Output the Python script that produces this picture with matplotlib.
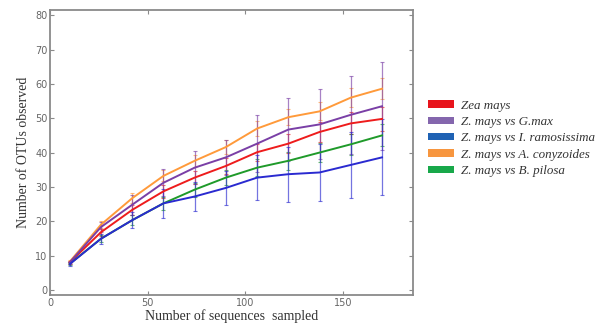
import matplotlib
matplotlib.use("Agg")
import matplotlib.pyplot as plt
from matplotlib.patches import Patch

# Data
seqs = [10, 26, 42, 58, 74, 90, 106, 122, 138, 154, 170]

zea = [8.0, 16.8, 23.3, 28.7, 32.7, 36.1, 40.1, 42.6, 46.0, 48.5, 49.8]
zm_gmax = [8.0, 18.3, 24.8, 31.2, 35.6, 38.6, 42.6, 46.7, 48.2, 51.0, 53.5]
zm_iram = [7.5, 14.9, 20.3, 25.2, 27.2, 29.7, 32.7, 33.7, 34.2, 36.4, 38.6]
zm_acon = [8.2, 19.0, 26.7, 33.2, 37.6, 41.6, 47.0, 50.3, 52.0, 56.0, 58.6]
zm_bpil = [7.6, 14.9, 20.3, 25.2, 29.2, 32.7, 35.6, 37.6, 40.0, 42.4, 45.0]

err_zea = [0.4, 1.0, 1.5, 1.8, 2.0, 2.2, 2.5, 2.8, 3.0, 3.2, 3.4]
err_gmax = [0.5, 1.5, 2.9, 3.9, 4.8, 5.2, 8.4, 9.3, 10.2, 11.4, 12.8]
err_iram = [0.5, 1.5, 2.3, 4.2, 4.2, 4.9, 6.5, 8.0, 8.2, 9.7, 11.1]
err_acon = [0.4, 1.0, 1.4, 1.6, 1.8, 2.0, 2.2, 2.4, 2.6, 2.8, 3.0]
err_bpil = [0.4, 1.0, 1.5, 1.8, 2.0, 2.2, 2.4, 2.6, 2.8, 3.0, 3.2]

labels = ["Zea mays", "Z. mays vs G.max", "Z. mays vs I. ramosissima",
          "Z. mays vs A. conyzoides", "Z. mays vs B. pilosa"]
line_colors = ["#ee1c1c", "#7a3fa6", "#2a2ad0", "#ff9a3a", "#1f9a2a"]
patch_colors = ["#e8141c", "#8466ad", "#1f62b4", "#f7963f", "#18a84a"]

fig = plt.figure(figsize=(6.05, 3.26), dpi=100)
ax = fig.add_axes([0.083, 0.095, 0.6, 0.874])

series = [zea, zm_gmax, zm_iram, zm_acon, zm_bpil]
errs = [err_zea, err_gmax, err_iram, err_acon, err_bpil]

# error bars first (thin, semi-transparent), then lines on top
order = [3, 0, 4, 1, 2]
for i in order:
    ax.errorbar(seqs, series[i], yerr=errs[i], fmt="none", ecolor=line_colors[i],
                elinewidth=0.9, capsize=1.5, capthick=0.8, alpha=0.65, zorder=2)
for i in order:
    ax.plot(seqs, series[i], color=line_colors[i], lw=1.4, zorder=3)

ax.set_xlim(0, 186)
ax.set_ylim(-1.5, 81.5)
ax.set_xticks([0, 50, 100, 150])
ax.set_yticks(range(0, 81, 10))

for s in ax.spines.values():
    s.set_color("#8a8a8a")
    s.set_linewidth(1.3)
ax.tick_params(direction="in", top=True, right=True, length=3, width=0.8,
               color="#8a8a8a", labelsize=7, labelcolor="#666666", pad=2)
for t in ax.get_xticklabels() + ax.get_yticklabels():
    t.set_family("DejaVu Sans")

ax.set_xlabel("Number of sequences  sampled", family="Liberation Serif",
              fontsize=10, color="#333333", labelpad=1)
ax.set_ylabel("Number of OTUs observed", family="Liberation Serif",
              fontsize=10, color="#333333", labelpad=4)

handles = [Patch(facecolor=c, edgecolor="none") for c in patch_colors]
leg = fig.legend(handles, labels, loc="upper left", bbox_to_anchor=(0.688, 0.73),
                 frameon=False, prop={"family": "Liberation Serif", "style": "italic", "size": 9.4},
                 handlelength=2.0, handleheight=0.5, handletextpad=0.5, labelspacing=0.33)
for t in leg.get_texts():
    t.set_color("#333333")

fig.savefig("out.png", dpi=100)
